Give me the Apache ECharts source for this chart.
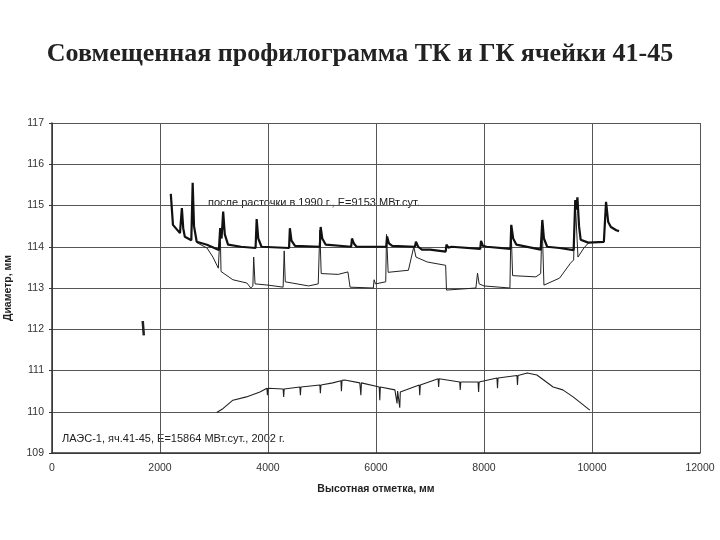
<!DOCTYPE html>
<html><head><meta charset="utf-8">
<script src="https://cdn.jsdelivr.net/npm/echarts@6/dist/echarts.min.js"></script>
<style>html,body{margin:0;padding:0;background:#fff}#c{width:720px;height:540px}</style>
</head><body><div id="c"></div>
<script>
const titleText = 'Совмещенная профилограмма ТК и ГК ячейки 41-45';
const xName = 'Высотная отметка, мм';
const yName = 'Диаметр, мм';
const note1990 = 'после расточки в 1990 г., Е=9153 МВт.сут.';
const note2002 = 'ЛАЭС-1, яч.41-45, Е=15864 МВт.сут., 2002 г.';

// upper thick curve (after boring, 1990)
const thick1990 = [
 [2200,115.28],[2240,114.53],[2370,114.33],[2395,114.3],[2405,114.94],[2430,114.45],[2460,114.24],[2580,114.16],
 [2605,115.55],[2630,114.5],[2680,114.12],[2870,114.05],[3090,113.92],[3115,114.45],[3140,114.2],[3170,114.85],
 [3200,114.3],[3260,114.05],[3500,114.0],[3770,113.97],[3790,114.67],[3820,114.2],[3880,114.0],[4390,113.97],
 [4405,114.45],[4435,114.15],[4500,114.02],[4960,114.0],[4975,114.48],[5005,114.2],[5070,114.05],[5540,114.0],
 [5555,114.2],[5590,114.08],[5640,114.0],[6190,114.0],[6205,114.25],[6240,114.08],[6300,114.02],[6720,114.0],
 [6740,114.12],[6780,114.0],[6850,113.93],[7000,113.93],[7290,113.88],[7305,114.05],[7340,113.98],[7400,114.0],
 [7930,113.95],[7945,114.14],[7980,114.02],[8050,114.0],[8490,113.95],[8505,114.53],[8540,114.2],[8600,114.05],
 [9050,113.93],[9080,114.65],[9110,114.2],[9170,114.0],[9400,113.97],[9660,113.92],[9690,115.13],[9710,114.9],
 [9730,115.2],[9760,114.5],[9790,114.17],[9930,114.1],[10220,114.12],[10260,115.09],[10300,114.6],[10350,114.48],
 [10450,114.4],[10500,114.38]
];

// upper thin curve
const thinUpper = [
 [2680,114.1],[2870,113.97],[2980,113.75],[3080,113.48],[3110,113.45],[3115,114.4],[3130,113.4],[3350,113.2],
 [3610,113.12],[3680,113.0],[3720,113.05],[3735,113.75],[3760,113.1],[4000,113.07],[4280,113.02],[4300,113.9],
 [4320,113.15],[4450,113.12],[4750,113.05],[4930,113.1],[4960,114.4],[4985,113.35],[5300,113.33],[5480,113.39],
 [5520,113.02],[5950,113.0],[5965,113.2],[5990,113.1],[6180,113.15],[6195,114.3],[6225,113.38],[6600,113.43],
 [6700,114.0],[6740,113.75],[6950,113.63],[7290,113.55],[7305,112.95],[7850,113.0],[7880,113.36],[7910,113.1],
 [8000,113.05],[8480,113.0],[8500,114.5],[8530,113.3],[8960,113.27],[9050,113.35],[9075,114.6],[9110,113.07],
 [9400,113.24],[9600,113.6],[9660,113.68],[9690,115.1],[9740,113.75],[9850,113.97],[9940,114.1]
];

// lower curve
const lower2002 = [
 [3050,109.98],[3170,110.08],[3350,110.28],[3600,110.36],[3850,110.48],[3980,110.57],[3990,110.4],[4000,110.57],
 [4280,110.55],[4290,110.36],[4300,110.55],[4590,110.6],[4600,110.4],[4610,110.6],[4960,110.65],[4970,110.45],
 [4980,110.65],[5200,110.7],[5350,110.75],[5360,110.5],[5370,110.76],[5420,110.77],[5700,110.7],[5720,110.4],
 [5730,110.7],[6060,110.6],[6070,110.28],[6080,110.6],[6350,110.53],[6390,110.2],[6400,110.5],[6440,110.1],
 [6450,110.48],[6800,110.65],[6810,110.4],[6820,110.65],[7150,110.8],[7160,110.6],[7170,110.8],[7550,110.72],
 [7560,110.53],[7570,110.72],[7890,110.72],[7900,110.48],[7910,110.72],[8240,110.82],[8250,110.57],[8260,110.82],
 [8610,110.88],[8620,110.65],[8630,110.88],[8800,110.94],[8980,110.89],[9280,110.6],[9460,110.53],[9650,110.36],
 [9960,110.04]
];

// small stray mark
const strayMark = [[1680,112.2],[1700,111.85]];

const xTicks = [0,2000,4000,6000,8000,10000,12000];

const chart = echarts.init(document.getElementById('c'));
chart.setOption({
  animation:false,
  backgroundColor:'#fff',
  title:{text:titleText,left:'center',top:36,
    textStyle:{fontFamily:'Liberation Serif',fontWeight:'bold',fontSize:26,color:'#222'}},
  grid:{left:52,right:20,top:123,bottom:87,containLabel:false,outerBoundsMode:'none'},
  xAxis:{type:'value',min:0,max:12000,interval:2000,
    name:xName,nameLocation:'middle',nameGap:31,
    nameTextStyle:{fontFamily:'Liberation Sans',fontWeight:'bold',fontSize:10.5,color:'#222'},
    axisLine:{show:true,lineStyle:{color:'#333',width:1.5}},
    axisTick:{show:false},
    axisLabel:{margin:10,fontFamily:'Liberation Sans',fontSize:10.5,color:'#333',
      formatter:v=>xTicks.includes(v)?String(v):''},
    splitLine:{show:true,lineStyle:{color:'#555',width:1}}},
  yAxis:{type:'value',min:109,max:117,interval:1,
    name:yName,nameLocation:'middle',nameGap:38,nameRotate:90,
    nameTextStyle:{fontFamily:'Liberation Sans',fontWeight:'bold',fontSize:10.5,color:'#222'},
    axisLine:{show:true,lineStyle:{color:'#333',width:1.5}},
    axisTick:{show:true,length:3,lineStyle:{color:'#333'}},
    axisLabel:{margin:8,fontFamily:'Liberation Sans',fontSize:10.5,color:'#333'},
    splitLine:{show:true,lineStyle:{color:'#555',width:1}}},
  graphic:[
    {type:'text',left:208,top:197,style:{text:note1990,fontFamily:'Liberation Sans',fontSize:11,fill:'#222'}},
    {type:'text',left:62,top:433,style:{text:note2002,fontFamily:'Liberation Sans',fontSize:11,fill:'#222'}}
  ],
  series:[
    {type:'line',data:thinUpper,symbol:'none',lineStyle:{color:'#222',width:1},z:3},
    {type:'line',data:thick1990,symbol:'none',lineStyle:{color:'#111',width:2.2},z:4},
    {type:'line',data:lower2002,symbol:'none',lineStyle:{color:'#222',width:1.1},z:3},
    {type:'line',data:strayMark,symbol:'none',lineStyle:{color:'#222',width:2.5},z:3}
  ]
});
</script></body></html>
